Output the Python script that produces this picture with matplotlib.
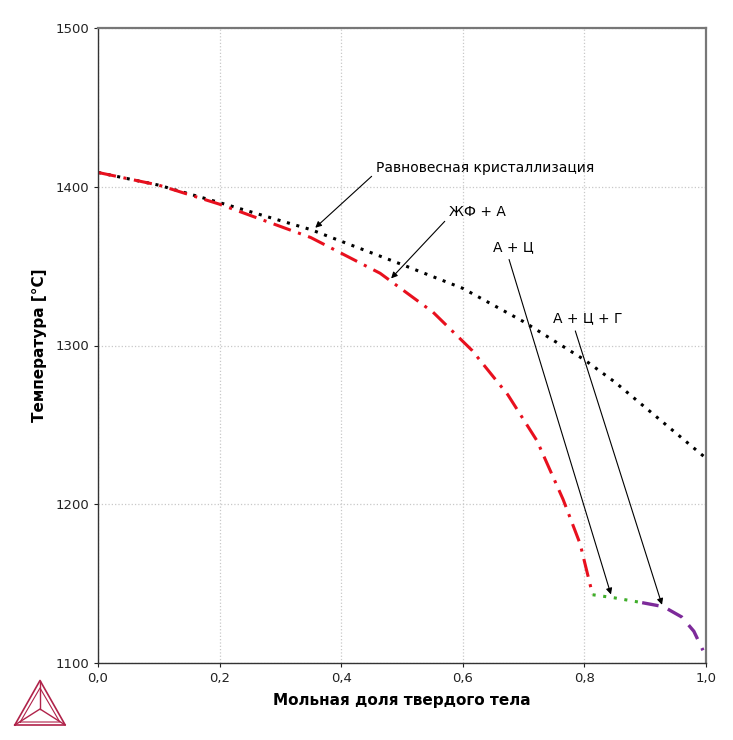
import matplotlib
matplotlib.use('Agg')
import matplotlib.pyplot as plt

# Equilibrium solidification (black dotted)
eq_x = [0.0, 0.1, 0.2, 0.35, 0.5, 0.6, 0.7, 0.8, 0.85, 0.9, 1.0]
eq_t = [1409, 1401, 1390, 1373, 1351, 1336, 1315, 1291, 1277, 1261, 1229]

# L + A (red dash-dot)
la_x = [0.0, 0.1, 0.2, 0.35, 0.464, 0.551, 0.615, 0.674, 0.722, 0.765, 0.793, 0.8135]
la_t = [1409, 1401, 1389, 1368, 1345.5, 1321, 1297, 1269, 1240, 1203, 1175, 1143]

# A + C (green dotted)
ac_x = [0.8135, 0.85, 0.895]
ac_t = [1143, 1141, 1138]

# A + C + G (purple dashed)
acg_x = [0.895, 0.93, 0.96, 0.98, 0.99, 0.995]
acg_t = [1138, 1135.5, 1129, 1120, 1112, 1108]

fig = plt.figure(figsize=(7.33, 7.40), dpi=100)
ax = fig.add_axes([98 / 733, 1 - 663 / 740, 608 / 733, 635 / 740])

ax.plot(eq_x, eq_t, color='black', linestyle=(0, (1, 2.2)), linewidth=2.2)
ax.plot(la_x, la_t, color='#e8101e', linestyle=(0, (6, 2.5, 1, 2.5)), linewidth=2.2)
ax.plot(ac_x, ac_t, color='#3fae2a', linestyle=(0, (1, 2.5)), linewidth=2.2)
ax.plot(acg_x, acg_t, color='#7d2a9a', linestyle=(0, (5, 3)), linewidth=2.4)

ax.set_xlim(0, 1)
ax.set_ylim(1100, 1500)
ax.set_xticks([0, 0.2, 0.4, 0.6, 0.8, 1.0])
ax.set_xticklabels(['0,0', '0,2', '0,4', '0,6', '0,8', '1,0'])
ax.set_yticks([1100, 1200, 1300, 1400, 1500])
ax.tick_params(labelsize=9.5, length=3, colors='#222222')
ax.grid(True, color='#c8c8c8', linestyle=':', linewidth=0.9)

for s in ['top', 'right']:
    ax.spines[s].set_color('#777777')
    ax.spines[s].set_linewidth(1.6)
for s in ['left', 'bottom']:
    ax.spines[s].set_color('#333333')
    ax.spines[s].set_linewidth(1.0)

ax.set_xlabel('Мольная доля твердого тела', fontsize=11, fontweight='bold', labelpad=6)
ax.set_ylabel('Температура [°C]', fontsize=11, fontweight='bold', labelpad=6)

arrow = dict(arrowstyle='-|>', color='black', lw=0.8, mutation_scale=9)
ax.annotate('Равновесная кристаллизация', xy=(0.354, 1373), xytext=(0.458, 1412),
            fontsize=10, ha='left', va='center', arrowprops=dict(arrow, relpos=(0, 0.2)))
ax.annotate('ЖФ + А', xy=(0.479, 1341), xytext=(0.578, 1384),
            fontsize=10, ha='left', va='center', arrowprops=dict(arrow, relpos=(0, 0.2)))
ax.annotate('А + Ц', xy=(0.845, 1141.5), xytext=(0.65, 1362),
            fontsize=10, ha='left', va='center', arrowprops=dict(arrow, relpos=(0.35, 0)))
ax.annotate('А + Ц + Г', xy=(0.929, 1135), xytext=(0.748, 1317),
            fontsize=10, ha='left', va='center', arrowprops=dict(arrow, relpos=(0.3, 0)))

# Thermo-Calc style logo
lg = fig.add_axes([10 / 733, 1 - 728 / 740, 60 / 733, 50 / 740])
lg.set_xlim(0, 1)
lg.set_ylim(0, 1)
lg.axis('off')
c = '#b0234a'
lg.plot([0.08, 0.5, 0.92, 0.08], [0.06, 0.95, 0.06, 0.06], color=c, lw=1.2)
lg.plot([0.17, 0.5, 0.83, 0.17], [0.12, 0.8, 0.12, 0.12], color=c, lw=0.8)
lg.plot([0.5, 0.5], [0.95, 0.38], color=c, lw=1.0)
lg.plot([0.08, 0.5, 0.92], [0.06, 0.38, 0.06], color=c, lw=1.0)

fig.savefig('out.png', dpi=100)
